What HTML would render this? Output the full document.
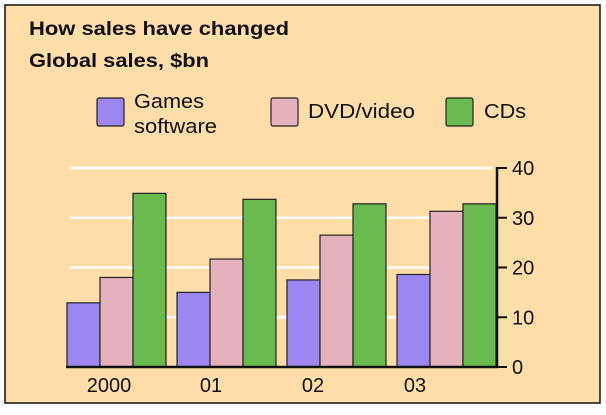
<!DOCTYPE html>
<html><head><meta charset="utf-8"><style>
html,body{margin:0;padding:0;background:#fff;}
svg{display:block;font-family:"Liberation Sans",Arial,sans-serif;}
</style></head><body>
<svg width="606" height="415" viewBox="0 0 606 415">
<rect x="5" y="5" width="595" height="398" fill="#fedda8" stroke="#111" stroke-width="1.5"/>
<text x="29" y="35" font-size="19" font-weight="bold" fill="#111" textLength="260" lengthAdjust="spacingAndGlyphs">How sales have changed</text>
<text x="29" y="67" font-size="19" font-weight="bold" fill="#111" textLength="180" lengthAdjust="spacingAndGlyphs">Global sales, $bn</text>
<g>
<g>
<rect x="97" y="98" width="27" height="28" rx="2" fill="#9b87ef" stroke="#222" stroke-width="1.2"/>
<text x="134" y="108" font-size="20" fill="#111" textLength="70" lengthAdjust="spacingAndGlyphs">Games</text>
<text x="134" y="133" font-size="20" fill="#111" textLength="83" lengthAdjust="spacingAndGlyphs">software</text>
</g>
<g>
<rect x="271" y="98" width="27" height="28" rx="2" fill="#e4b1bd" stroke="#222" stroke-width="1.2"/>
<text x="308" y="118" font-size="20" fill="#111" textLength="107" lengthAdjust="spacingAndGlyphs">DVD/video</text>
</g>
<g>
<rect x="446" y="98" width="27" height="28" rx="2" fill="#69bb4f" stroke="#222" stroke-width="1.2"/>
<text x="484" y="118" font-size="20" fill="#111" textLength="42" lengthAdjust="spacingAndGlyphs">CDs</text>
</g>
</g>
<g id="plot"></g>
</svg>
<script>
const categories = ["2000","01","02","03"];
const games = [12.9, 15.0, 17.5, 18.6];
const dvd = [18.0, 21.7, 26.5, 31.3];
const cds = [34.9, 33.7, 32.8, 32.8];
const yTicks = [0,10,20,30,40];

const NS="http://www.w3.org/2000/svg";
const g=document.getElementById('plot');
const y0=367, yTop=168, yMax=40;
function y(v){return y0-(v/yMax)*(y0-yTop);}
const groupStart=67, groupStep=110, barW=33;
function x(i,s){return groupStart+i*groupStep+s*barW;}
function mk(t,a){const e=document.createElementNS(NS,t);for(const k in a)e.setAttribute(k,a[k]);g.appendChild(e);return e;}

yTicks.forEach(t=>{
  if(t>0){
    const l=mk('line',{x1:70,x2:492,y1:y(t),y2:y(t),stroke:'#fff','stroke-width':2.5});
    
    
  }
});
const series=[[games,'#9b87ef','games'],[dvd,'#e4b1bd','dvd'],[cds,'#69bb4f','cds']];
categories.forEach((c,i)=>{
  series.forEach(([arr,col,nm],s)=>{
    const r=mk('rect',{x:x(i,s),y:y(arr[i]),width:barW,height:y0-y(arr[i]),fill:col,stroke:'#222','stroke-width':1.2});
    
    
  });
  const t=mk('text',{x:109+i*102,y:392,'font-size':20,'text-anchor':'middle',fill:'#111'});
  t.textContent=c;
  
  
});
const base=mk('line',{x1:66,x2:498,y1:y0,y2:y0,stroke:'#111','stroke-width':2.5});


const ax=mk('line',{x1:497,x2:497,y1:yTop-1,y2:y0+1,stroke:'#111','stroke-width':2.5});


yTicks.forEach(t=>{
  const tk=mk('line',{x1:497,x2:507,y1:y(t),y2:y(t),stroke:'#111','stroke-width':2});
  
  
  const lb=mk('text',{x:512,y:y(t)+7,'font-size':20,fill:'#111'});
  lb.textContent=t;
  
  
});
</script>
</body></html>
